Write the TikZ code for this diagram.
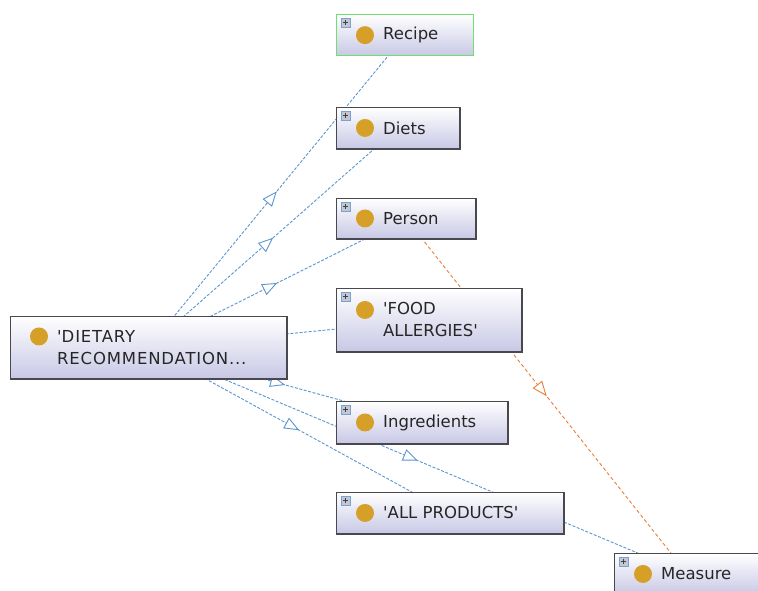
\documentclass[tikz,border=0pt]{standalone}
\usepackage{fontspec}
\setmainfont{DejaVu Sans}
\usetikzlibrary{arrows.meta,decorations.markings,backgrounds}

\definecolor{edgeblue}{RGB}{92,150,208}
\definecolor{edgeorange}{RGB}{232,128,58}
\definecolor{gold}{RGB}{214,160,40}
\definecolor{lav}{RGB}{200,200,230}
\definecolor{frame}{RGB}{72,72,78}
\definecolor{selgreen}{RGB}{112,222,112}
\definecolor{iconfill}{RGB}{196,198,210}
\definecolor{iconedge}{RGB}{120,162,212}

\tikzset{
  x=1pt, y=-1pt,
  clsbox/.style={rectangle, anchor=north west, inner sep=0pt,
    top color=white, bottom color=lav, draw=frame, line width=0.9pt},
  selected/.style={draw=selgreen, line width=1.3pt},
  lbl/.style={anchor=west, inner sep=0pt, align=left,
    font=\fontsize{16.5}{22}\selectfont, text=black!85},
  midtip/.style={postaction={decorate}, decoration={markings,
    mark=at position 0.5 with {\arrow{Triangle[length=15pt,width=12pt,fill=white]}}}},
  subarc/.style={edgeblue, line width=0.9pt, dash pattern=on 3pt off 1.6pt, midtip},
  objarc/.style={edgeorange, line width=0.9pt, dash pattern=on 3.5pt off 2.5pt, midtip},
}

% class box: name, x, y, width, height, circle offset, label
\newcommand\owlclass[8][]{%
  \node[clsbox, #1, minimum width=#5pt, minimum height=#6pt] (#2) at (#3,#4) {};
  \fill[gold] ([xshift=29pt,yshift=#7pt]#2.west) circle (9pt);
  \node[lbl] (#2-label) at ([xshift=47pt]#2.west) {#8};
}
% expand handle in the upper left corner
\newcommand\expander[1]{%
  \filldraw[fill=iconfill, draw=iconedge, line width=0.6pt]
    ([xshift=5pt,yshift=-4pt]#1.north west) rectangle ++(9pt,-9pt);
  \draw[black!75, line width=0.8pt]
    ([xshift=6.8pt,yshift=-8.5pt]#1.north west) -- ++(5.4pt,0pt)
    ([xshift=9.5pt,yshift=-5.8pt]#1.north west) -- ++(0pt,-5.4pt);
}
% darker right and bottom edge
\newcommand\edgeshade[1]{%
  \draw[frame, line width=1.8pt] (#1.north east) -- (#1.south east) -- (#1.south west);
}
\newcommand\q{\textquotesingle}

\begin{document}
\begin{tikzpicture}
  \useasboundingbox (0,0) rectangle (758,590);

  \owlclass[selected]{recipe}{336}{14}{137}{41}{0}{Recipe}
  \owlclass{diets}{336}{107}{123}{41}{0}{Diets}
  \owlclass{person}{336}{198}{139}{40}{0}{Person}
  \owlclass{allerg}{336}{288}{185}{63}{10}{\q FOOD\\ALLERGIES\q}
  \owlclass{ingr}{336}{401}{171}{42}{0}{Ingredients}
  \owlclass{allprod}{336}{492}{227}{41}{0}{\q ALL PRODUCTS\q}
  \owlclass{measure}{614}{553}{146}{41}{0}{Measure}
  \owlclass{dietrec}{10}{316}{276}{62}{11}{\addfontfeature{LetterSpace=5}\q DIETARY\\\addfontfeature{LetterSpace=5}RECOMMENDATION...}

  \foreach \n in {diets,person,allerg,ingr,allprod,measure,dietrec} {\edgeshade{\n}}
  \foreach \n in {recipe,diets,person,allerg,ingr,allprod,measure} {\expander{\n}}

  \begin{pgfonlayer}{background}
    \fill[white] (0,0) rectangle (758,590);
    \foreach \t in {recipe,diets,person,allerg,ingr,allprod,measure}
      {\draw[subarc] (dietrec.center) -- (\t.center);}
    \draw[objarc] (person.center) -- (measure.center);
  \end{pgfonlayer}
\end{tikzpicture}
\end{document}
